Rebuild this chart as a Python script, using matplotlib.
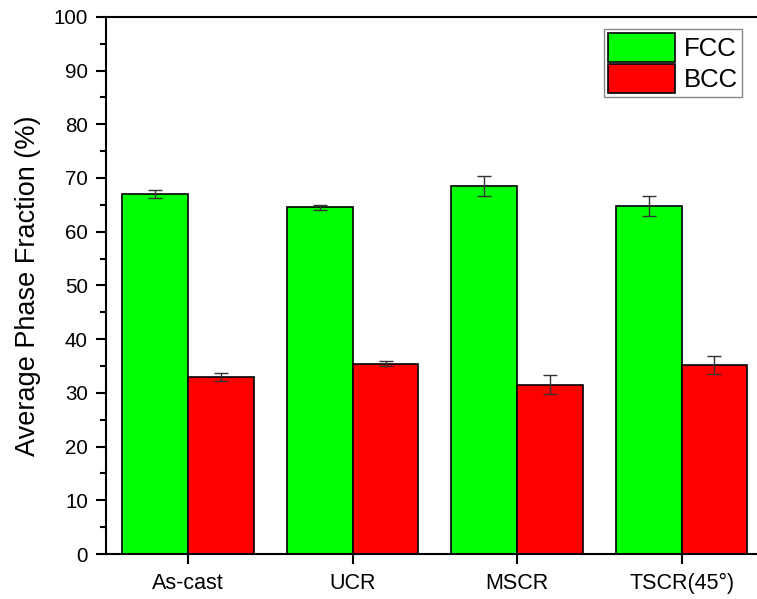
import numpy as np
import matplotlib
matplotlib.use("Agg")
import matplotlib.pyplot as plt
from matplotlib.ticker import MultipleLocator

plt.rcParams['font.family'] = ['Liberation Sans', 'DejaVu Sans']

# data
conditions = ['As-cast', 'UCR', 'MSCR', 'TSCR(45°)']
fcc = [67.0, 64.55, 68.5, 64.75]
fcc_err = [0.75, 0.5, 1.8, 1.8]
bcc = [33.0, 35.45, 31.5, 35.25]
bcc_err = [0.75, 0.4, 1.8, 1.7]

x = np.arange(1, len(conditions) + 1)
w = 0.4

fig = plt.figure(figsize=(7.57, 5.99), dpi=100)
ax = fig.add_axes([0.14, 0.075, 0.869, 0.897])

ekw = dict(ecolor='#333333', elinewidth=1.0, capsize=5, capthick=1.0)
ax.bar(x - w / 2, fcc, w, yerr=fcc_err, color='#00ff00', edgecolor='black',
       linewidth=1.2, label='FCC', error_kw=ekw)
ax.bar(x + w / 2, bcc, w, yerr=bcc_err, color='#ff0000', edgecolor='black',
       linewidth=1.2, label='BCC', error_kw=ekw)

ax.set_xlim(0.5, 4.5)
ax.set_ylim(0, 100)
ax.set_xticks(x)
ax.set_xticklabels(conditions)
ax.yaxis.set_major_locator(MultipleLocator(10))
ax.yaxis.set_minor_locator(MultipleLocator(5))
ax.tick_params(axis='both', direction='out', width=1.5, length=7.5, pad=5.5)
ax.tick_params(axis='y', labelsize=14.8)
ax.tick_params(axis='x', labelsize=15.5, pad=6)
ax.tick_params(axis='y', which='minor', direction='out', width=1.5, length=4.5)
for s in ax.spines.values():
    s.set_linewidth(1.5)
ax.spines['right'].set_visible(False)

ax.set_ylabel('Average Phase Fraction (%)', fontsize=19.5, labelpad=9)

leg = ax.legend(loc='upper right', bbox_to_anchor=(0.9666, 0.9777), fontsize=18.5,
                handlelength=2.6, handleheight=1.4, labelspacing=0.05,
                handletextpad=0.35, borderpad=0.15, borderaxespad=0.0,
                fancybox=False, framealpha=1)
leg.get_frame().set_edgecolor('#888888')
leg.get_frame().set_linewidth(1.0)

fig.savefig('out.png', dpi=100)
